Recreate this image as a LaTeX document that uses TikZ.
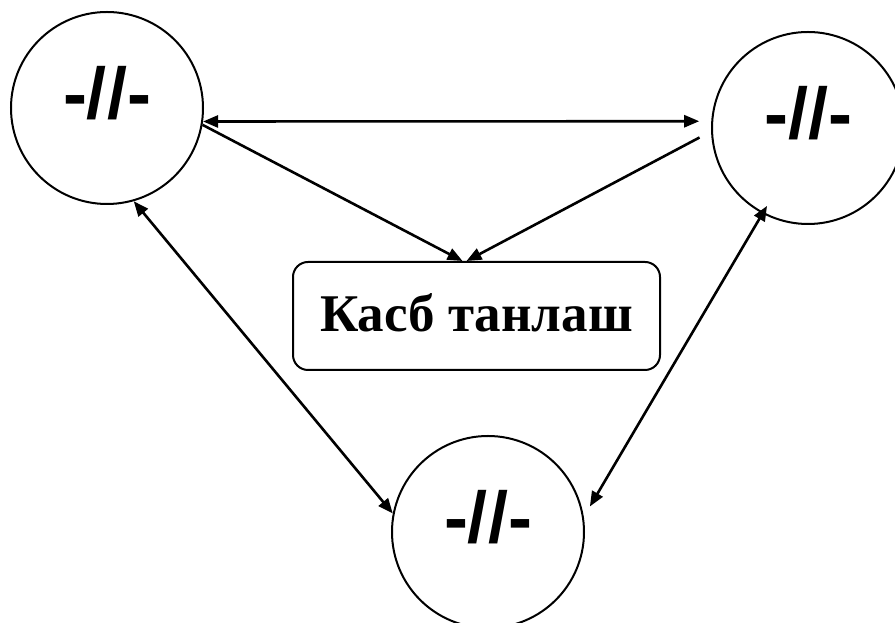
\documentclass[tikz,border=0pt]{standalone}
\usepackage{fontspec}
\setmainfont{Liberation Serif}
\newfontfamily\arialfont{Liberation Sans}
\usetikzlibrary{arrows.meta}
\begin{document}
\begin{tikzpicture}[x=1pt,y=1pt,line width=2pt,
    bubble/.style={draw,circle,minimum size=192pt,inner sep=0pt},
    dittomark/.style={font=\arialfont\bfseries\fontsize{72}{72}\selectfont,yshift=15pt},
    topic/.style={draw,rounded corners=15pt,minimum width=367pt,minimum height=108pt,
      font=\bfseries\fontsize{53}{53}\selectfont},
    link/.style={line width=2.6pt},
    >={Triangle[length=15pt,width=12pt]}]
          \useasboundingbox (0,0) rectangle (895,623);
          % circles
          \node[bubble,label={[dittomark]center:-//-}] (left) at (107,515) {};
          \node[bubble,label={[dittomark]center:-//-}] (right) at (808,495) {};
          \node[bubble,label={[dittomark]center:-//-}] (bottom) at (488,91) {};
          % centre box
          \node[topic] (choice) at (476.5,307) {\raisebox{7pt}{Касб танлаш}};
          % top arrows
          \draw[link,<->,shorten >=12pt] (left.-8) -- (right.176);
          \draw[link,->] (left.-10) -- ([xshift=-14pt]choice.north);
          \draw[link,->,shorten <=13pt] (right.182) -- ([xshift=-10pt]choice.north);
          % side arrows
          \draw[link,<->] (left.-74) -- (bottom.169);
          \draw[link,<->,shorten <=-9pt,shorten >=12pt] (right.242) -- (bottom.9);
        \end{tikzpicture}
\end{document}
